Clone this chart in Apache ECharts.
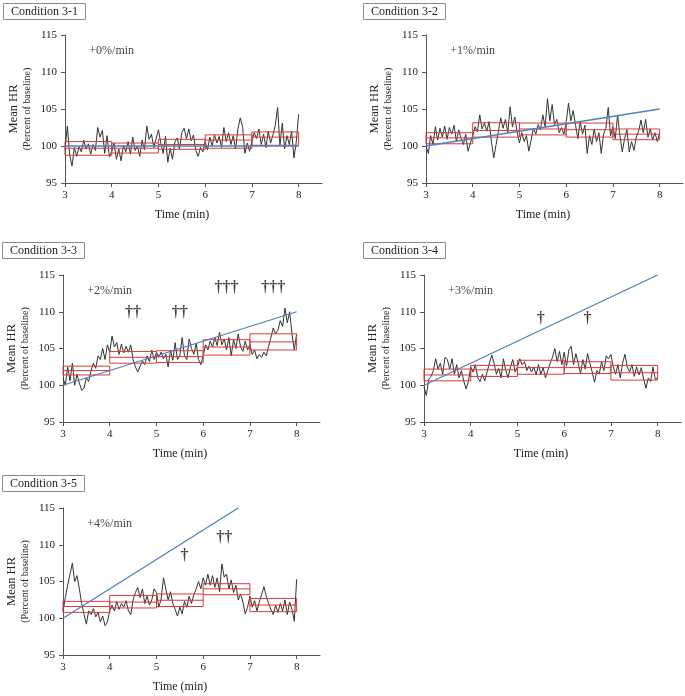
<!DOCTYPE html>
<html><head><meta charset="utf-8">
<script src="https://cdn.jsdelivr.net/npm/echarts@6/dist/echarts.min.js"></script>
<style>html,body{margin:0;padding:0;background:#fff}#c{width:685px;height:696px}</style>
</head><body><div id="c"></div>
<script>
// ---- data ----
const minutes = [3,3.05,3.1,3.15,3.2,3.25,3.3,3.35,3.4,3.45,3.5,3.55,3.6,3.65,3.7,3.75,3.8,3.85,3.9,3.95,
 4,4.05,4.1,4.15,4.2,4.25,4.3,4.35,4.4,4.45,4.5,4.55,4.6,4.65,4.7,4.75,4.8,4.85,4.9,4.95,
 5,5.05,5.1,5.15,5.2,5.25,5.3,5.35,5.4,5.45,5.5,5.55,5.6,5.65,5.7,5.75,5.8,5.85,5.9,5.95,
 6,6.05,6.1,6.15,6.2,6.25,6.3,6.35,6.4,6.45,6.5,6.55,6.6,6.65,6.7,6.75,6.8,6.85,6.9,6.95,
 7,7.05,7.1,7.15,7.2,7.25,7.3,7.35,7.4,7.45,7.5,7.55,7.6,7.65,7.7,7.75,7.8,7.85,7.9,7.95,8];

const hr31 = [99.5,102.7,98.8,97.3,99.8,98.6,99.9,99.2,100.8,99.6,100.3,98.9,100.2,99.4,102.5,101.2,102.1,99.0,101.4,98.5,
 99.3,100.4,98.2,99.6,98.0,100.1,99.2,100.6,98.9,101.2,99.4,100.0,98.6,100.8,99.5,102.7,100.9,101.6,99.8,101.0,
 102.2,100.4,99.0,101.3,97.8,99.7,98.2,100.5,101.1,99.6,101.8,102.4,101.0,102.3,100.7,101.5,99.4,98.6,99.8,99.2,
 100.6,99.5,101.2,100.0,101.5,100.4,101.3,99.8,102.5,100.6,101.8,100.2,101.4,99.6,102.3,103.8,102.6,99.0,100.4,99.3,
 100.6,101.8,101.0,102.3,100.2,101.6,99.8,102.0,100.4,101.5,102.8,105.2,100.1,103.1,99.6,101.4,100.2,102.0,98.4,100.6,104.3];
const hr32 = [100.0,99.0,101.4,100.2,102.6,100.8,102.4,101.2,102.7,100.9,102.5,101.6,102.8,100.6,102.2,101.0,100.2,101.6,99.3,100.4,
 101.4,102.6,101.9,104.2,102.3,103.1,102.0,103.3,100.6,98.4,100.2,102.0,103.8,102.4,103.6,101.8,105.3,102.6,103.9,101.9,
 100.4,101.8,100.6,101.4,99.3,100.8,102.4,101.6,102.9,102.2,104.2,102.6,106.4,103.4,105.6,102.9,103.6,101.8,102.5,101.6,
 103.2,105.8,103.4,104.8,102.8,101.0,103.3,101.6,102.8,99.0,101.4,100.2,102.3,100.6,101.8,99.0,101.6,102.4,105.2,101.4,
 102.6,101.0,104.2,101.4,99.2,101.0,102.2,99.2,100.6,99.4,101.2,102.0,103.5,101.8,103.6,101.2,102.3,100.8,101.8,100.6,101.8];
const hr33 = [101.0,100.0,102.5,100.6,103.0,100.0,101.5,100.3,99.3,99.6,101.0,100.5,102.0,103.0,102.3,104.0,103.5,105.0,103.5,105.5,
 104.5,106.7,105.2,105.8,104.2,105.6,104.4,105.3,104.5,105.5,103.5,102.5,101.8,102.6,103.3,102.8,104.0,103.2,104.8,103.5,
 104.5,103.8,104.5,103.6,104.2,102.5,104.8,103.4,105.8,103.5,104.0,106.5,104.0,103.5,106.3,105.0,104.2,105.7,103.5,102.8,
 104.0,105.5,104.8,106.0,105.2,106.5,105.4,107.2,105.5,106.3,104.8,106.5,104.0,106.2,105.0,107.0,105.2,104.6,106.0,104.8,
 105.5,104.2,104.8,103.6,104.2,103.8,104.5,104.0,105.3,106.5,107.8,107.0,107.5,108.8,108.0,110.5,108.5,110.0,107.0,104.8,107.0];
const hr34 = [99.8,98.6,100.8,101.2,102.0,103.6,102.2,103.0,101.5,103.8,103.5,102.2,103.6,101.5,102.8,101.0,102.0,100.6,99.5,100.5,
 102.5,101.8,102.8,101.0,100.5,101.5,100.6,101.8,103.0,104.1,103.0,101.5,102.3,101.0,103.6,102.0,101.0,102.5,103.5,101.8,
 102.5,103.6,102.8,103.2,102.0,102.6,101.8,102.5,101.4,102.8,101.5,102.4,101.0,102.0,103.0,103.8,105.0,103.2,104.6,102.8,
 104.5,102.6,104.8,105.3,102.8,104.3,103.0,101.6,103.5,102.2,104.3,103.0,101.8,100.4,102.0,101.5,103.2,102.0,104.0,103.6,
 104.2,102.5,101.5,102.8,101.0,103.0,104.2,102.5,101.8,102.8,101.2,102.5,101.4,102.4,100.8,99.6,101.0,100.5,102.5,100.8,101.0];
const hr35 = [101.0,102.8,104.5,106.0,107.5,105.0,105.8,104.0,102.0,100.5,99.2,101.0,100.5,101.3,100.2,100.8,99.5,100.3,99.0,99.5,
 101.0,101.8,101.0,102.3,101.2,102.0,101.5,102.4,101.0,100.5,102.5,103.5,104.2,102.8,104.0,102.0,103.0,101.8,102.5,104.0,
 103.5,101.5,102.6,105.5,104.0,102.5,103.6,102.0,101.2,100.3,101.5,100.6,102.3,101.5,103.0,102.0,103.2,104.0,105.0,104.0,
 105.5,104.5,106.0,104.5,105.8,104.2,105.5,103.6,107.4,105.6,106.0,104.0,105.2,103.5,104.5,102.5,103.3,102.2,100.6,101.5,
 103.0,101.5,102.4,101.0,102.2,103.2,104.3,103.0,102.0,101.2,100.5,101.8,100.8,102.0,101.0,102.5,100.5,102.2,101.2,99.6,105.3];

// per-minute boxes: [lower, mean, upper]
const boxStart = [3,4,5,6,7];
const boxEnd = [4,5,6,7,8];
const box31 = [[98.75,99.7,100.6],[99.05,99.7,100.4],[99.55,100.2,100.9],[99.7,100.8,101.5],[100.1,101.2,101.9]];
const box32 = [[100.3,101.1,101.8],[101.2,102.1,103.15],[101.5,102.3,103.1],[101.2,102.2,103.1],[100.85,101.6,102.3]];
const box33 = [[101.4,102.0,102.6],[103.0,103.8,104.6],[103.1,103.9,104.7],[104.1,105.2,106.2],[104.8,105.9,107.0]];
const box34 = [[100.6,101.4,102.2],[101.2,102.1,102.7],[101.5,102.4,103.4],[101.6,102.4,103.2],[100.7,101.7,102.7]];
const box35 = [[100.8,101.6,102.3],[101.4,102.2,103.1],[101.6,102.45,103.3],[103.2,104.0,104.7],[100.9,101.8,102.7]];

// target lines
const target31 = [[3,100],[8,100]];
const target32 = [[3,100],[8,105]];
const target33 = [[3,100],[8,110]];
const target34 = [[3,100],[8,115]];
const target35 = [[3,100],[6.75,115]];

const titles = ['Condition 3-1','Condition 3-2','Condition 3-3','Condition 3-4','Condition 3-5'];
const rates = ['+0%/min','+1%/min','+2%/min','+3%/min','+4%/min'];
const ratePos = [4.0, 112.8];
const daggers31 = [];
const daggers32 = [];
const daggers33 = [[4.5,109.8,'††'],[5.5,109.8,'††'],[6.5,113.2,'†††'],[7.5,113.2,'†††']];
const daggers34 = [[5.5,109.1,'†'],[6.5,109.1,'†']];
const daggers35 = [[5.6,108.5,'†'],[6.45,110.9,'††']];
const xTicks = [3,4,5,6,7,8];

// ---- layout ----
const FONT = '"Liberation Serif","Times New Roman",serif';
const grids = [
  {left:65, top:35, width:257, height:148},
  {left:426, top:35, width:257, height:148},
  {left:63, top:275, width:257, height:147},
  {left:424, top:275, width:257, height:147},
  {left:63, top:508, width:257, height:147}
];
const titlePos = [[3,3],[363,3],[2,242],[363,242],[2,475]];
const traces = [hr31,hr32,hr33,hr34,hr35];
const boxes = [box31,box32,box33,box34,box35];
const targets = [target31,target32,target33,target34,target35];
const daggers = [daggers31,daggers32,daggers33,daggers34,daggers35];

const AX = '#555';
const option = {
  backgroundColor:'#fff',
  animation:false,
  title: titles.map((t,i)=>({
    text:t, left:titlePos[i][0], top:titlePos[i][1],
    borderColor:'#8a8a8a', borderWidth:1, padding:[3,8,2,8],
    textStyle:{fontFamily:FONT, fontSize:12, fontWeight:'normal', color:'#222'}
  })),
  grid: grids,
  xAxis: grids.map((g,i)=>({
    gridIndex:i, type:'value', min:3, max:8.5, interval:1,
    axisLine:{show:true, onZero:false, lineStyle:{color:AX, width:1}},
    axisTick:{show:true, length:4, customValues:xTicks, lineStyle:{color:AX}},
    axisLabel:{customValues:xTicks, fontFamily:FONT, fontSize:11, color:'#222', margin:7},
    splitLine:{show:false},
    name:'Time (min)', nameLocation:'middle', nameGap:26,
    nameTextStyle:{fontFamily:FONT, fontSize:12, color:'#222', padding:[0,23,0,0]}
  })),
  yAxis: grids.map((g,i)=>({
    gridIndex:i, type:'value', min:95, max:115, interval:5,
    axisLine:{show:true, onZero:false, lineStyle:{color:AX, width:1}},
    axisTick:{show:true, length:4, lineStyle:{color:AX}},
    axisLabel:{fontFamily:FONT, fontSize:11, color:'#222', margin:8},
    splitLine:{show:false},
    name:'{a|Mean HR}\n{b|(Percent of baseline)}', nameLocation:'middle', nameRotate:90, nameGap:32,
    nameTextStyle:{fontFamily:FONT, color:'#222', rich:{
      a:{fontFamily:FONT, fontSize:12.5, lineHeight:15, color:'#222'},
      b:{fontFamily:FONT, fontSize:10, lineHeight:12, color:'#222'}
    }}
  })),
  series: []
};

for (let i=0;i<5;i++){
  option.series.push({
    type:'line', xAxisIndex:i, yAxisIndex:i, showSymbol:false, symbol:'none',
    data: minutes.map((m,k)=>[m, traces[i][k]]),
    lineStyle:{color:'#333', width:1}, z:2
  });
  option.series.push({
    type:'custom', xAxisIndex:i, yAxisIndex:i, z:3,
    data: boxes[i].map((b,k)=>[boxStart[k], boxEnd[k], b[0], b[1], b[2]]),
    encode:{x:[0,1], y:[2,3,4]},
    renderItem:(params, api)=>{
      const s=api.value(0), e=api.value(1), lo=api.value(2), m=api.value(3), hi=api.value(4);
      const p1=api.coord([s,hi]), p2=api.coord([e,lo]), q1=api.coord([s,m]), q2=api.coord([e,m]);
      return {type:'group', children:[
        {type:'rect', shape:{x:p1[0], y:p1[1], width:p2[0]-p1[0], height:p2[1]-p1[1]},
          style:{fill:'none', stroke:'#d63a3a', lineWidth:1}},
        {type:'line', shape:{x1:q1[0], y1:q1[1], x2:q2[0], y2:q2[1]},
          style:{stroke:'#d63a3a', lineWidth:1}}
      ]};
    }
  });
  option.series.push({
    type:'line', xAxisIndex:i, yAxisIndex:i, showSymbol:false, symbol:'none',
    data: targets[i], lineStyle:{color:'#4f81bd', width:1.3}, z:4
  });
  const notes = [[ratePos[0], ratePos[1], rates[i], 12, 'normal']].concat(daggers[i].map(d=>[d[0],d[1],d[2],16,'bold']));
  option.series.push({
    type:'scatter', xAxisIndex:i, yAxisIndex:i, symbolSize:2, z:5,
    data: notes.map(n=>({value:[n[0],n[1]], label:{show:true, position:'inside', formatter:n[2], fontSize:n[3], fontWeight:n[4], fontFamily:FONT, color:'#111'}})),
    itemStyle:{color:'rgba(0,0,0,0)'}, silent:true,
    labelLayout:{hideOverlap:false}
  });
}

const chart = echarts.init(document.getElementById('c'), null, {renderer:'canvas'});
chart.setOption(option);
</script></body></html>
